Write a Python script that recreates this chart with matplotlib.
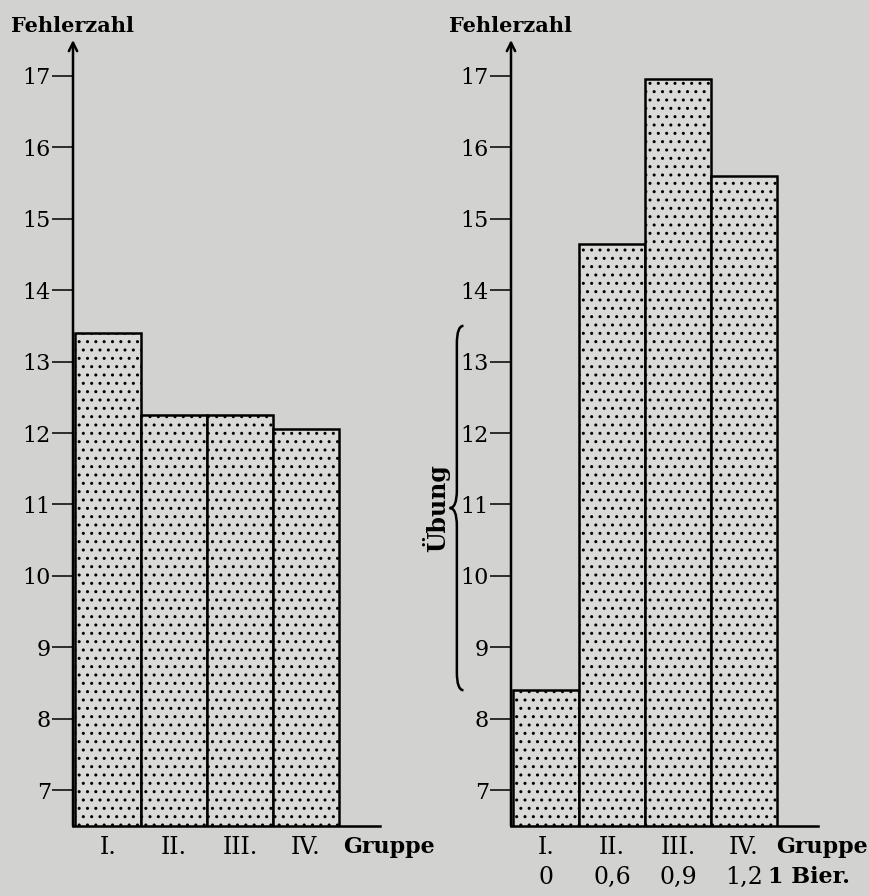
import numpy as np
import matplotlib.pyplot as plt
from matplotlib.path import Path
from matplotlib.patches import PathPatch

# Data
groups = ["I.", "II.", "III.", "IV."]
errors_left = [13.4, 12.25, 12.25, 12.05]
errors_right = [8.4, 14.65, 16.95, 15.6]
doses = ["0", "0,6", "0,9", "1,2"]
yticks = list(range(7, 18))

bg = "#d2d2d0"
bar_face = "#dadad8"
serif = "DejaVu Serif"

plt.rcParams["hatch.linewidth"] = 1.0

fig = plt.figure(figsize=(8.7, 8.96), dpi=100)
fig.patch.set_facecolor(bg)

H = 896.0
W = 870.0
bottom = 1 - 826 / H
top = 1 - 40 / H
ax_l = fig.add_axes([73 / W, bottom, 307 / W, top - bottom])
ax_r = fig.add_axes([511 / W, bottom, 307 / W, top - bottom])

# label rows below the baseline, in axes fraction
row1 = -21 / 786
row2 = -51 / 786


def style_axis(ax, values):
    ax.set_facecolor("none")
    x = np.arange(len(values)) + 0.03
    ax.bar(x, values, width=1.0, align="edge", color=bar_face,
           edgecolor="black", linewidth=1.8, hatch="..")
    ax.set_xlim(0, 4.65)
    ax.set_ylim(6.5, 17.5)
    for s in ["top", "right", "left"]:
        ax.spines[s].set_visible(False)
    ax.spines["bottom"].set_linewidth(1.8)
    ax.set_yticks(yticks)
    ax.set_yticklabels([str(t) for t in yticks], fontfamily=serif, fontsize=16)
    ax.tick_params(axis="y", direction="out", length=15, width=1.1, pad=1)
    ax.set_xticks([])
    # y axis with arrow head
    ax.annotate("", xy=(0, 1.0), xycoords="axes fraction", xytext=(0, 0),
                arrowprops=dict(arrowstyle="->,head_length=0.6,head_width=0.3",
                                lw=1.8, color="black", shrinkA=0, shrinkB=0),
                annotation_clip=False)
    return x + 0.5


def label(ax, x, y, s, **kw):
    ax.text(x, y, s, transform=ax.get_xaxis_transform(), va="center",
            fontfamily=serif, clip_on=False, **kw)


x_l = style_axis(ax_l, errors_left)
for xi, g in zip(x_l, groups):
    label(ax_l, xi, row1, g, ha="center", fontsize=17)
label(ax_l, 4.09, row1, "Gruppe", ha="left", fontweight="bold", fontsize=16)

x_r = style_axis(ax_r, errors_right)
for xi, g, d in zip(x_r, groups, doses):
    label(ax_r, xi, row1, g, ha="center", fontsize=17)
    label(ax_r, xi, row2, d, ha="center", fontsize=17)
label(ax_r, 4.02, row1, "Gruppe", ha="left", fontweight="bold", fontsize=16)
label(ax_r, 3.9, row2, "1 Bier.", ha="left", fontweight="bold", fontsize=16)

# axis titles
for ax in (ax_l, ax_r):
    x0 = ax.get_position().x0
    fig.text(x0, 1 - 26 / H, "Fehlerzahl", ha="center", va="center",
             fontfamily=serif, fontweight="bold", fontsize=15)

# curly brace for "Übung" between sober group and first test
y0, y1 = errors_right[0], errors_left[0] + 0.1
ym = (y0 + y1) / 2
xl, xc, xe = -0.82, -0.93, -0.72
d = 0.25
verts = [(xe, y0), (xl, y0), (xl, y0 + d),
         (xl, ym - d), (xl, ym), (xc, ym),
         (xl, ym), (xl, ym + d),
         (xl, y1 - d), (xl, y1), (xe, y1)]
codes = [Path.MOVETO, Path.CURVE3, Path.CURVE3,
         Path.LINETO, Path.CURVE3, Path.CURVE3,
         Path.CURVE3, Path.CURVE3,
         Path.LINETO, Path.CURVE3, Path.CURVE3]
ax_r.add_patch(PathPatch(Path(verts, codes), fill=False, lw=1.8,
                         edgecolor="black", clip_on=False))
ax_r.text(-1.13, ym, "Übung", rotation=90, ha="center", va="center",
          fontfamily=serif, fontweight="bold", fontsize=17, clip_on=False)

fig.savefig("out.png", dpi=100, facecolor=bg)
